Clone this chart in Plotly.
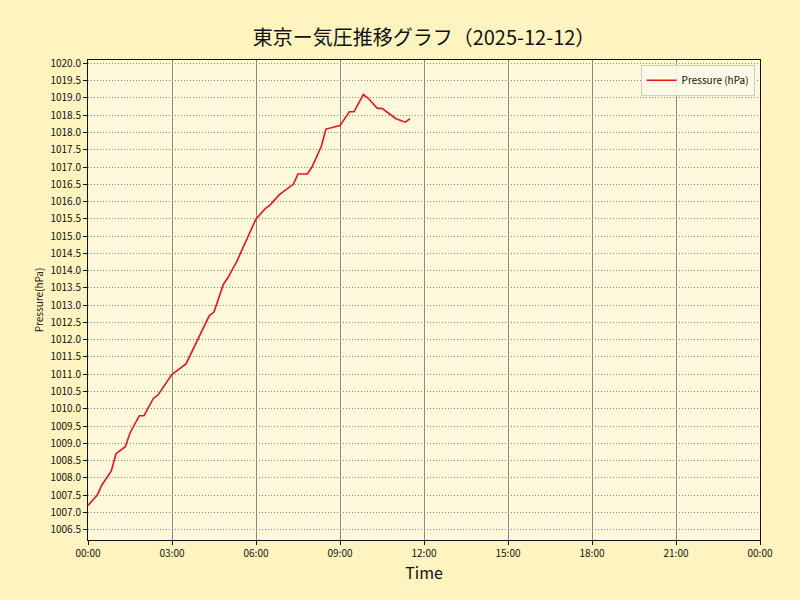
import plotly.graph_objects as go

times = ["00:00", "00:20", "00:30", "00:50", "01:00", "01:20", "01:30", "01:50",
         "02:00", "02:20", "02:30", "03:00", "03:30", "04:20", "04:30", "04:50",
         "05:00", "05:20", "05:30", "06:00", "06:20", "06:30", "06:50", "07:20",
         "07:30", "07:50", "08:00", "08:20", "08:30", "09:00", "09:20", "09:30",
         "09:50", "10:00", "10:20", "10:30", "10:50", "11:00", "11:20", "11:30"]
pressure = [1007.2, 1007.5, 1007.8, 1008.2, 1008.7, 1008.9, 1009.3, 1009.8,
            1009.8, 1010.3, 1010.4, 1011.0, 1011.3, 1012.7, 1012.8, 1013.6,
            1013.8, 1014.3, 1014.6, 1015.5, 1015.8, 1015.9, 1016.2, 1016.5,
            1016.8, 1016.8, 1017.0, 1017.6, 1018.1, 1018.2, 1018.6, 1018.6,
            1019.1, 1019.0, 1018.7, 1018.7, 1018.5, 1018.4, 1018.3, 1018.4]
date = "2025-12-12"
x_vals = [f"{date} {t}" for t in times]

font = "Noto Sans CJK JP"

fig = go.Figure()
fig.add_trace(go.Scatter(
    x=x_vals, y=pressure, mode="lines", name="Pressure (hPa)",
    line=dict(color="#e8141b", width=1.6),
))

fig.update_layout(
    width=800, height=600,
    paper_bgcolor="#fff4bf",
    plot_bgcolor="#fff8dc",
    margin=dict(l=88, r=40, t=60, b=60),
    title=dict(text="東京ー気圧推移グラフ（2025-12-12）", x=0.53, xanchor="center",
               y=0.937, yanchor="middle",
               font=dict(family=font, size=20, color="#111")),
    font=dict(family=font, size=10, color="#111"),
    showlegend=True,
    legend=dict(x=0.992, y=0.99, xanchor="right", yanchor="top",
                bgcolor="rgba(255,250,230,0.9)", bordercolor="#cccccc", borderwidth=1,
                itemwidth=30, tracegroupgap=0,
                font=dict(family=font, size=10, color="#111")),
)

fig.update_xaxes(
    type="date",
    range=[f"{date} 00:00", "2025-12-13 00:00"],
    dtick=3 * 3600 * 1000,
    tick0=f"{date} 00:00",
    tickformat="%H:%M",
    ticks="outside", ticklen=4, tickcolor="#111",
    showline=True, linecolor="#111", linewidth=1, mirror=True,
    showgrid=True, gridcolor="#8c8c7c", gridwidth=1,
    title=dict(text="Time", font=dict(family=font, size=16, color="#111"), standoff=8),
    tickfont=dict(family=font, size=10),
)

fig.update_yaxes(
    range=[1006.2, 1020.1],
    dtick=0.5, tick0=1006.5,
    tickformat=".1f",
    ticks="outside", ticklen=4, tickcolor="#111",
    showline=True, linecolor="#111", linewidth=1, mirror=True,
    showgrid=True, gridcolor="#8a8a7a", gridwidth=1, griddash="1px,2px",
    zeroline=False,
    title=dict(text="Pressure(hPa)", font=dict(family=font, size=10, color="#111"), standoff=4),
    tickfont=dict(family=font, size=10),
)

fig.write_html(
    "out.html",
    config={"displayModeBar": False},
    post_script="document.body.style.margin='0';document.body.style.background='#fff4bf';",
)
